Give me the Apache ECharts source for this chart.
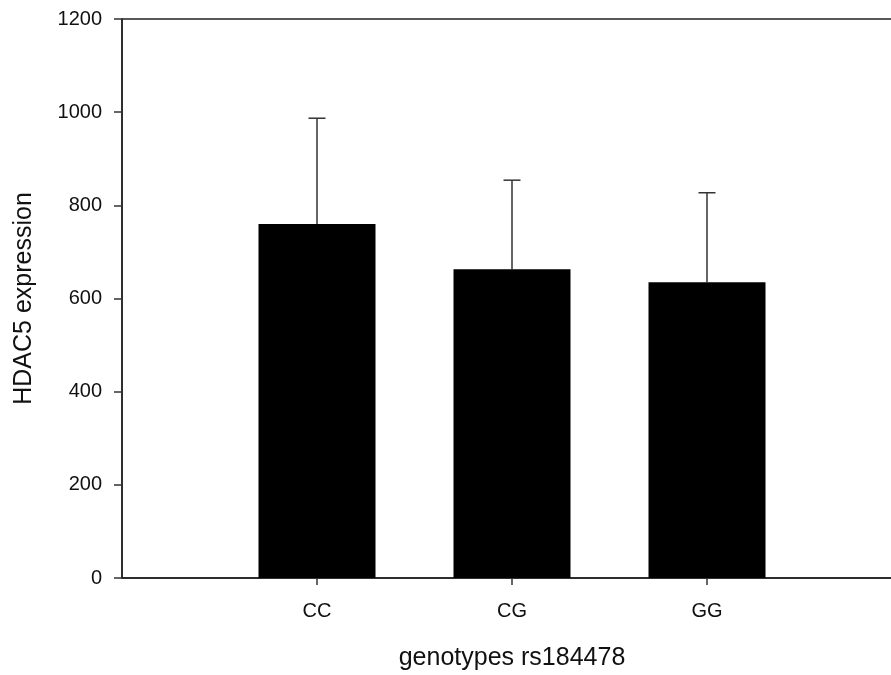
<!DOCTYPE html>
<html>
<head>
<meta charset="utf-8">
<script src="https://cdn.jsdelivr.net/npm/echarts@6/dist/echarts.min.js"></script>
<style>html,body{margin:0;padding:0;background:#fff}#c{width:891px;height:675px}</style>
</head>
<body>
<div id="c"></div>
<script>
var categories = ['CC', 'CG', 'GG'];
var means = [760, 663, 635];
var sds = [227, 191, 192];
var yTicks = [0, 200, 400, 600, 800, 1000, 1200];
var xTitle = 'genotypes rs184478';
var yTitle = 'HDAC5 expression';

var axisCats = [''].concat(categories, ['']);
var barData = [null].concat(means, [null]);
var errData = categories.map(function (c, i) { return [i + 1, means[i], means[i] + sds[i]]; });

var chart = echarts.init(document.getElementById('c'), null, {renderer: 'canvas'});
var font = 'Liberation Sans';
chart.setOption({
  animation: false,
  grid: {left: 122, top: 19, width: 780, height: 559, show: true, borderColor: '#222', borderWidth: 1.5,
    backgroundColor: 'transparent', containLabel: false, outerBoundsMode: 'none'},
  xAxis: {
    type: 'category', data: axisCats, boundaryGap: false,
    axisLine: {lineStyle: {color: '#222', width: 1.5}},
    axisTick: {show: true, length: 7, lineStyle: {color: '#333', width: 1.5},
      interval: function (idx) { return idx > 0 && idx < axisCats.length - 1; }},
    axisLabel: {color: '#111', fontSize: 20, fontFamily: font, margin: 23, interval: 0},
    splitLine: {show: false},
    name: xTitle, nameLocation: 'middle', nameGap: 68,
    nameTextStyle: {color: '#111', fontSize: 25, fontFamily: font}
  },
  yAxis: {
    type: 'value', min: yTicks[0], max: yTicks[yTicks.length - 1], interval: yTicks[1] - yTicks[0],
    axisLine: {show: true, lineStyle: {color: '#222', width: 1.5}},
    axisTick: {show: true, inside: false, length: 8, lineStyle: {color: '#333', width: 1.5}},
    axisLabel: {color: '#111', fontSize: 20, fontFamily: font, margin: 20,
      formatter: function (v) { return String(v); }},
    splitLine: {show: false},
    name: yTitle, nameLocation: 'middle', nameGap: 85, nameRotate: 90,
    nameTextStyle: {color: '#111', fontSize: 25, fontFamily: font}
  },
  series: [
    {
      type: 'bar', data: barData, barWidth: '60%',
      itemStyle: {color: '#000', borderColor: '#000', borderWidth: 0}
    },
    {
      type: 'custom', data: errData, z: 1,
      renderItem: function (params, api) {
        var x = api.value(0);
        var lo = api.coord([x, api.value(1)]);
        var hi = api.coord([x, api.value(2)]);
        var cap = 8.5;
        return {type: 'group', children: [
          {type: 'line', shape: {x1: lo[0], y1: lo[1], x2: hi[0], y2: hi[1]}, style: {stroke: '#333', lineWidth: 1.5}},
          {type: 'line', shape: {x1: hi[0] - cap, y1: hi[1], x2: hi[0] + cap, y2: hi[1]}, style: {stroke: '#333', lineWidth: 1.5}}
        ]};
      }
    }
  ]
});
</script>
</body>
</html>
